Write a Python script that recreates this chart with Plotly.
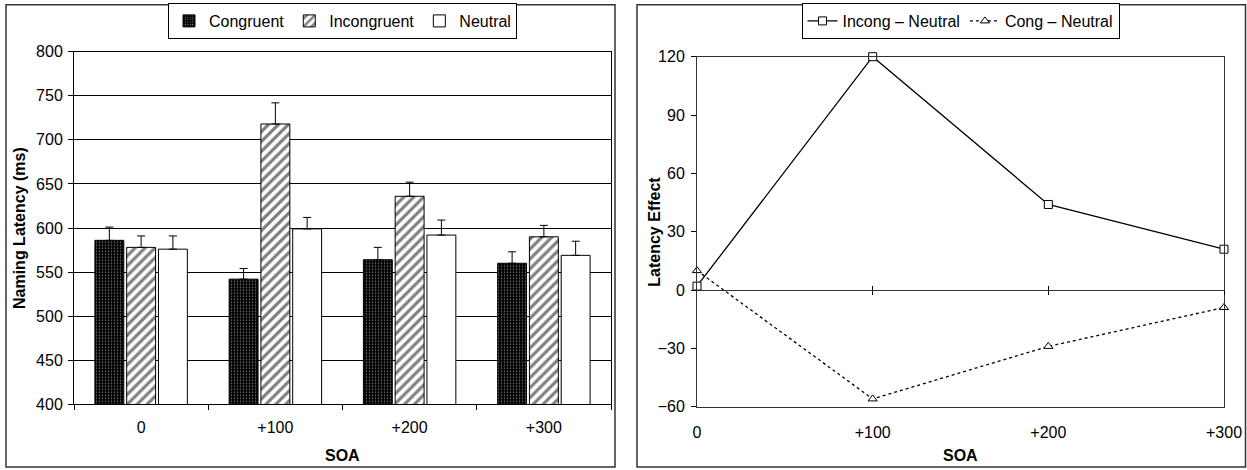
import plotly.graph_objects as go

# ---- data ----
soa_labels = ["0", "+100", "+200", "+300"]
soa_values = [0, 100, 200, 300]

congruent = [586, 542, 564, 560]
congruent_err = [15, 12, 14, 13]
incongruent = [578, 718, 636, 590]
incongruent_err = [13, 24, 16, 13]
neutral = [576, 599, 592, 569]
neutral_err = [15, 13, 17, 16]

incong_minus_neutral = [2, 120, 44, 21]
cong_minus_neutral = [10, -56, -29, -9]

FONT = "Liberation Sans, Arial, sans-serif"
W, H = 1247, 470

def px_x(p):
    return p / W

def px_y(p):
    return 1 - p / H

fig = go.Figure()

def err(arr):
    return dict(type="data", array=arr, arrayminus=[0] * len(arr), symmetric=False,
                color="black", thickness=1, width=4)

fig.add_trace(go.Bar(
    x=soa_labels, y=congruent, name="Congruent", error_y=err(congruent_err),
    marker=dict(color="black", line=dict(color="black", width=1),
                pattern=dict(shape=".", fgcolor="white", bgcolor="black", size=3, solidity=0.2)),
    xaxis="x", yaxis="y", legend="legend"))
fig.add_trace(go.Bar(
    x=soa_labels, y=incongruent, name="Incongruent", error_y=err(incongruent_err),
    marker=dict(color="white", line=dict(color="black", width=1),
                pattern=dict(shape="/", fgcolor="black", bgcolor="white", size=7, solidity=0.45)),
    xaxis="x", yaxis="y", legend="legend"))
fig.add_trace(go.Bar(
    x=soa_labels, y=neutral, name="Neutral", error_y=err(neutral_err),
    marker=dict(color="white", line=dict(color="black", width=1)),
    xaxis="x", yaxis="y", legend="legend"))

fig.add_trace(go.Scatter(
    x=soa_values, y=incong_minus_neutral, name="Incong – Neutral", mode="lines+markers",
    line=dict(color="black", width=1.3), cliponaxis=False,
    marker=dict(symbol="square", size=8, color="white", line=dict(color="black", width=1)),
    xaxis="x2", yaxis="y2", legend="legend2"))
fig.add_trace(go.Scatter(
    x=soa_values, y=cong_minus_neutral, name="Cong – Neutral", mode="lines+markers",
    line=dict(color="black", width=1.3, dash="dot"), cliponaxis=False,
    marker=dict(symbol="triangle-up", size=8, color="white", line=dict(color="black", width=1)),
    xaxis="x2", yaxis="y2", legend="legend2"))

# invisible helper traces so the zero-crossing tick axes are drawn
for ax in ["x3", "x4"]:
    fig.add_trace(go.Scatter(x=soa_values, y=[None] * len(soa_values), mode="lines",
                             xaxis=ax, yaxis="y2", showlegend=False, hoverinfo="skip"))

tickfont = dict(family=FONT, size=16, color="black")

left_x = [px_x(74), px_x(611)]
left_y = [px_y(404.3), px_y(51.7)]
right_x = [px_x(697), px_x(1224)]
right_y = [px_y(406.7), px_y(56.7)]
ymin2, ymax2 = -60, 120
zero_pos = right_y[0] + (0 - ymin2) / (ymax2 - ymin2) * (right_y[1] - right_y[0])

legend_common = dict(orientation="h", xanchor="center", y=px_y(3), yanchor="top",
                     bgcolor="white", bordercolor="black", borderwidth=1,
                     font=dict(family=FONT, size=16, color="black"),
                     itemwidth=30, tracegroupgap=0)

fig.update_layout(
    width=W, height=H,
    margin=dict(l=0, r=0, t=0, b=0, autoexpand=False),
    paper_bgcolor="white", plot_bgcolor="white",
    barmode="group", bargap=0.29, bargroupgap=0.09,
    font=dict(family=FONT, size=16, color="black"),
    xaxis=dict(domain=left_x, anchor="y", type="category", range=[-0.5, 3.5],
               tickson="boundaries", ticks="outside", ticklen=5, tickcolor="black",
               ticklabelstandoff=8,
               showline=True, linecolor="black", linewidth=1, mirror=True,
               showgrid=False, tickfont=tickfont),
    yaxis=dict(domain=left_y, anchor="x", range=[400, 800], dtick=50,
               ticks="outside", ticklen=5, tickcolor="black", ticklabelstandoff=2,
               showline=True, linecolor="black", linewidth=1, mirror=True,
               showgrid=True, gridcolor="black", gridwidth=1, zeroline=False,
               tickfont=tickfont),
    xaxis2=dict(domain=right_x, anchor="y2", range=[0, 300],
                tickvals=soa_values, ticktext=soa_labels, ticks="", ticklabelstandoff=11,
                showline=True, linecolor="#333", linewidth=1, mirror=True,
                showgrid=False, zeroline=False, tickfont=tickfont),
    yaxis2=dict(domain=right_y, anchor="x2", range=[ymin2, ymax2], dtick=30,
                ticks="outside", ticklen=5, tickcolor="black", ticklabelstandoff=3,
                showline=True, linecolor="#333", linewidth=1, mirror=True,
                showgrid=False, zeroline=True, zerolinecolor="#333", zerolinewidth=1,
                tickfont=tickfont),
    xaxis3=dict(overlaying="x2", anchor="free", position=zero_pos, range=[0, 300],
                tickvals=soa_values[1:], ticks="outside", ticklen=4, tickcolor="black",
                showticklabels=False, showline=False,
                showgrid=False, zeroline=False),
    xaxis4=dict(overlaying="x2", anchor="free", position=zero_pos, range=[0, 300],
                tickvals=soa_values[1:], ticks="inside", ticklen=4, tickcolor="black",
                showticklabels=False, showline=False, showgrid=False, zeroline=False),
    legend=dict(x=(left_x[0] + left_x[1]) / 2, **legend_common),
    legend2=dict(x=(right_x[0] + right_x[1]) / 2, **legend_common),
    showlegend=True,
)

# panel borders
for x0, x1 in [(6, 615), (637, 1245.5)]:
    fig.add_shape(type="rect", xref="paper", yref="paper",
                  x0=px_x(x0), x1=px_x(x1), y0=px_y(467), y1=px_y(4.7),
                  line=dict(color="#333", width=1.5), fillcolor="rgba(0,0,0,0)", layer="below")

# axis titles
title_font = dict(family=FONT, size=16, color="black")
fig.add_annotation(text="<b>Naming Latency (ms)</b>", xref="paper", yref="paper",
                   x=px_x(19), y=(left_y[0] + left_y[1]) / 2, textangle=-90,
                   xanchor="center", yanchor="middle", showarrow=False, font=title_font)
fig.add_annotation(text="<b>SOA</b>", xref="paper", yref="paper",
                   x=(left_x[0] + left_x[1]) / 2, y=px_y(455),
                   xanchor="center", yanchor="middle", showarrow=False, font=title_font)
fig.add_annotation(text="<b>Latency Effect</b>", xref="paper", yref="paper",
                   x=px_x(655), y=(right_y[0] + right_y[1]) / 2, textangle=-90,
                   xanchor="center", yanchor="middle", showarrow=False, font=title_font)
fig.add_annotation(text="<b>SOA</b>", xref="paper", yref="paper",
                   x=(right_x[0] + right_x[1]) / 2, y=px_y(455),
                   xanchor="center", yanchor="middle", showarrow=False, font=title_font)

fig.write_html("out.html", config={"displayModeBar": False},
               post_script="document.body.style.margin='0';document.body.style.overflow='hidden';")
